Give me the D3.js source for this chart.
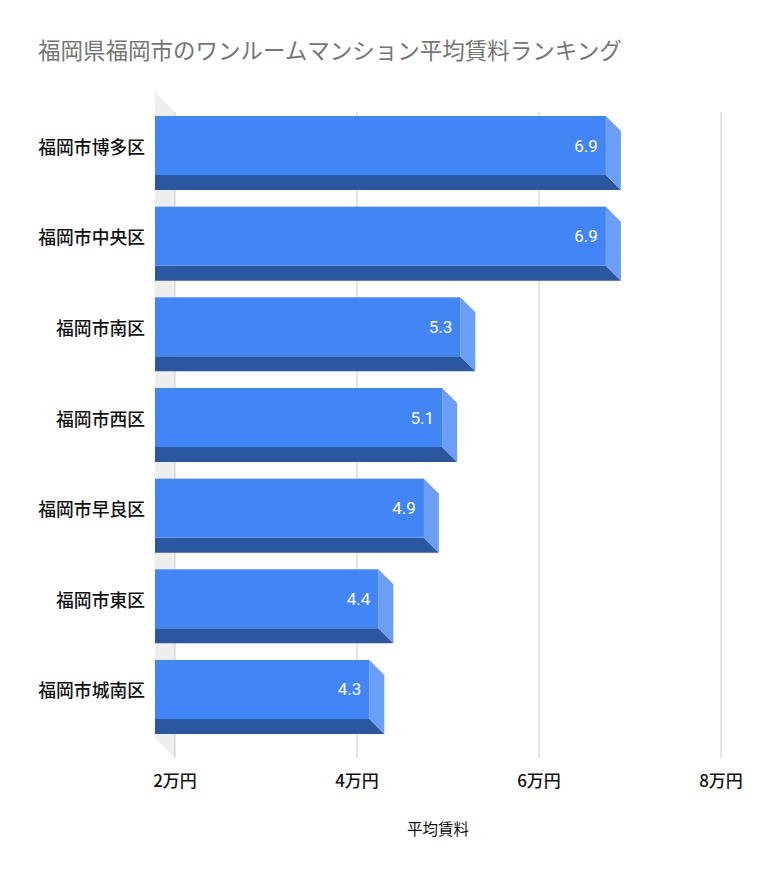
<!DOCTYPE html>
<html>
<head>
<meta charset="utf-8">
<script src="https://cdn.jsdelivr.net/npm/d3@7"></script>
<style>
  body { margin: 0; background: #fff; }
  svg { display: block; }
</style>
</head>
<body>
<div id="chart"></div>
<script>
const title = "福岡県福岡市のワンルームマンション平均賃料ランキング";
const categories = ["福岡市博多区", "福岡市中央区", "福岡市南区", "福岡市西区", "福岡市早良区", "福岡市東区", "福岡市城南区"];
const rents = [6.9, 6.9, 5.3, 5.1, 4.9, 4.4, 4.3];
const tickValues = [2, 4, 6, 8];
const tickLabels = ["2万円", "4万円", "6万円", "8万円"];
const axisTitle = "平均賃料";

const width = 758, height = 878;
const wallDepth = 20, barDepth = 15;
const jpFont = "'Noto Sans CJK JP', 'Noto Sans', sans-serif";

let svg = d3.select("#chart").append("svg")
    .attr("width", width)
    .attr("height", height);

let x = d3.scaleLinear().domain([2, 8]).range([175, 721]);
let y = d3.scaleBand().domain(categories).range([116, 719]).paddingInner(0.349).paddingOuter(0);

// back plane
let planeTop = 112, planeBottom = 758;
let x0 = x(2);

// side wall (left floor)
svg.append("path")
    .attr("d", `M${x0 - wallDepth},${planeTop - wallDepth} L${x0},${planeTop} L${x0},${planeBottom} L${x0 - wallDepth},${planeBottom - wallDepth} Z`)
    .attr("fill", "#eeeeee");

// gridlines on back plane
svg.append("g").selectAll("line")
    .data(tickValues)
    .join("line")
    .attr("x1", d => x(d)).attr("x2", d => x(d))
    .attr("y1", planeTop).attr("y2", planeBottom)
    .attr("stroke", "#cccccc")
    .attr("stroke-width", 1);

// bars
let bars = svg.append("g").selectAll("g")
    .data(categories.map((c, i) => ({c, v: rents[i]})))
    .join("g");

bars.each(function(d) {
    let g = d3.select(this);
    let left = x0 - wallDepth;
    let xf = x(d.v) - barDepth;
    let yt = y(d.c), yb = yt + y.bandwidth();

    // bottom face
    g.append("path")
        .attr("d", `M${left},${yb} L${xf},${yb} L${xf + barDepth},${yb + barDepth} L${left},${yb + barDepth} Z`)
        .attr("fill", "#2b57a0");
    // right face
    g.append("path")
        .attr("d", `M${xf},${yt} L${xf + barDepth},${yt + barDepth} L${xf + barDepth},${yb + barDepth} L${xf},${yb} Z`)
        .attr("fill", "#6b9ef6");
    // front face
    g.append("rect")
        .attr("x", left).attr("y", yt)
        .attr("width", xf - left).attr("height", y.bandwidth())
        .attr("fill", "#4285f4");
    // value label
    g.append("text")
        .attr("x", xf - 8)
        .attr("y", yt + y.bandwidth() / 2)
        .attr("text-anchor", "end")
        .attr("dominant-baseline", "central")
        .attr("font-family", "Roboto, sans-serif")
        .attr("font-size", 17)
        .attr("fill", "#ffffff")
        .text(d3.format(".1f")(d.v));
});

// category labels
svg.append("g").selectAll("text")
    .data(categories)
    .join("text")
    .attr("x", 145)
    .attr("y", d => y(d) + y.bandwidth() / 2)
    .attr("text-anchor", "end")
    .attr("dominant-baseline", "central")
    .attr("font-family", jpFont)
    .attr("font-size", 17.8)
    .attr("font-weight", 500)
    .attr("fill", "#111111")
    .text(d => d);

// x tick labels
svg.append("g").selectAll("text")
    .data(tickValues)
    .join("text")
    .attr("x", d => x(d))
    .attr("y", 787)
    .attr("text-anchor", "middle")
    .attr("font-family", jpFont)
    .attr("font-size", 17)
    .attr("font-weight", 500)
    .attr("fill", "#111111")
    .text((d, i) => tickLabels[i]);

// axis title
svg.append("text")
    .attr("x", 438)
    .attr("y", 835)
    .attr("text-anchor", "middle")
    .attr("font-family", jpFont)
    .attr("font-size", 15.5)
    .attr("fill", "#111111")
    .text(axisTitle);

// chart title
svg.append("text")
    .attr("x", 38)
    .attr("y", 59)
    .attr("font-family", jpFont)
    .attr("font-size", 22.5)
    .attr("fill", "#757575")
    .text(title);
</script>
</body>
</html>
